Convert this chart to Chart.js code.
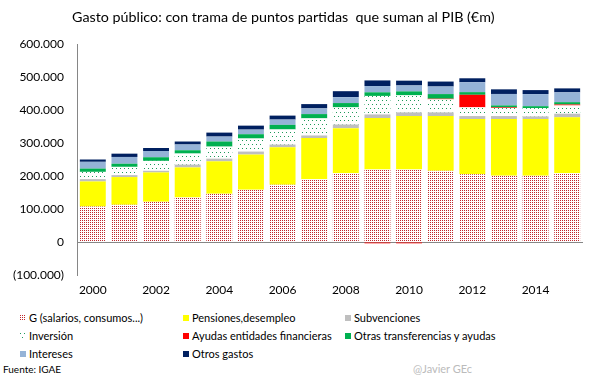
<!DOCTYPE html>
<html>
<head>
<meta charset="utf-8">
<script src="https://cdn.jsdelivr.net/npm/chart.js@4"></script>
<style>
  body { margin: 0; background: #fff; font-family: Lato, "Open Sans", sans-serif; }
  #wrap { position: relative; width: 605px; height: 378px; }
  #chart { position: absolute; left: 0; top: 0; }
  #title { position: absolute; left: 72px; top: 8px; font-size: 14.3px; color: #000; white-space: nowrap; }
  .leg { position: absolute; font-size: 11px; color: #000; white-space: nowrap; line-height: 14px; }
  .leg i { display: inline-block; width: 6px; height: 6px; margin-right: 3px; vertical-align: 1px; }
  #src { position: absolute; left: 3px; top: 363px; font-size: 10px; color: #000; }
  #sig { position: absolute; left: 413px; top: 362px; font-size: 11px; color: #bbb; }
</style>
</head>
<body>
<div id="wrap">
  <canvas id="chart" width="605" height="300"></canvas>
  <div id="title">Gasto público: con trama de puntos partidas&nbsp; que suman al PIB (€m)</div>
  <div id="legend"></div>
  <div id="src">Fuente: IGAE</div>
  <div id="sig">@Javier GEc</div>
</div>
<script>
const years = ['2000','2001','2002','2003','2004','2005','2006','2007','2008','2009','2010','2011','2012','2013','2014','2015'];

// € millones
const gasto = [107500,112700,121800,135000,146000,158400,173600,189800,208000,220000,220000,216000,205000,201000,201000,208000];
const pensiones = [76000,84000,89000,91000,98500,106600,113700,125000,137000,155600,161700,165700,167600,171600,171600,169700];
const subvenciones = [7000,6000,5000,8500,8000,9000,8000,8000,11000,11000,11000,11000,9000,9000,8000,11000];
const inversion = [22000,25000,30000,33500,36500,39600,45700,51800,52000,56000,51700,39500,26500,24300,25000,25000];
const ayudas = [0,0,0,0,0,0,0,0,0,-4000,-4000,2000,38000,2000,0,3000];
const otrasTransf = [10000,9500,11000,10000,15500,13000,14000,13000,13000,11000,12000,14000,8000,6000,6000,7000];
const intereses = [20500,20500,19000,17500,15000,14000,16000,17300,18000,19000,18000,23000,30000,34700,36700,29800];
const otros = [7000,10000,9000,9000,12000,12000,12000,13000,18000,17000,14500,15000,12000,14000,12000,12000];

const yTicks = [-100000,0,100000,200000,300000,400000,500000,600000];

function dotCanvas(color, step, stagger) {
    const c = document.createElement('canvas');
    c.width = step;
    c.height = stagger ? step * 2 : step;
    const g = c.getContext('2d');
    g.fillStyle = '#fff';
    g.fillRect(0, 0, c.width, c.height);
    g.fillStyle = color;
    g.fillRect(0, 0, 1, 1);
    if (stagger) g.fillRect(step / 2, step, 1, 1);
    return c;
}

const ctx = document.getElementById('chart').getContext('2d');
const gTile = dotCanvas('#c0282d', 2, false);
const invTile = dotCanvas('#1f9a5a', 4, true);

const series = [
    { label: 'G (salarios, consumos...)', data: gasto, color: ctx.createPattern(gTile, 'repeat'), tile: gTile },
    { label: 'Pensiones,desempleo', data: pensiones, color: '#ffff00' },
    { label: 'Subvenciones', data: subvenciones, color: '#bfbfbf' },
    { label: 'Inversión', data: inversion, color: ctx.createPattern(invTile, 'repeat'), tile: invTile },
    { label: 'Ayudas entidades financieras', data: ayudas, color: '#ff0000' },
    { label: 'Otras transferencias y ayudas', data: otrasTransf, color: '#00b050' },
    { label: 'Intereses', data: intereses, color: '#95b3d7' },
    { label: 'Otros gastos', data: otros, color: '#002060' }
];

const chart = new Chart(ctx, {
    type: 'bar',
    data: {
        labels: years,
        datasets: series.map(s => ({
            label: s.label,
            data: s.data,
            backgroundColor: s.color,
            borderWidth: 0,
            categoryPercentage: 0.82,
            barPercentage: 1.0
        }))
    },
    options: {
        responsive: false,
        animation: false,
        layout: { padding: { left: 0, right: 22, top: 44, bottom: 0 } },
        plugins: {
            legend: { display: false },
            tooltip: { enabled: false }
        },
        scales: {
            x: {
                stacked: true,
                grid: { display: false, drawTicks: false },
                border: { display: false },
                ticks: {
                    autoSkip: false,
                    maxRotation: 0,
                    padding: 8,
                    color: '#000',
                    font: { family: 'Lato', size: 12 },
                    callback: (v, i) => (i % 2 === 0 ? years[i] : '')
                },
                afterFit: scale => { scale.height = 25; }
            },
            y: {
                stacked: true,
                min: -100000,
                max: 600000,
                afterBuildTicks: scale => { scale.ticks = yTicks.map(v => ({ value: v })); },
                border: { display: true, color: '#868686', width: 1 },
                grid: {
                    drawTicks: false,
                    color: c => (c.tick && c.tick.value === 0 ? '#868686' : 'rgba(0,0,0,0)'),
                    lineWidth: 1
                },
                ticks: {
                    padding: 13,
                    color: '#000',
                    font: { family: 'Lato', size: 12 },
                    callback: v => {
                        const s = Math.abs(v).toLocaleString('de-DE');
                        return v < 0 ? '(' + s + ')' : s;
                    }
                },
                afterFit: scale => { scale.width = 77; }
            }
        }
    }
});

// legend in three columns
const cols = [20, 183, 345];
const rows = [311, 329, 347];
const legendDiv = document.getElementById('legend');
series.forEach((s, i) => {
    const el = document.createElement('div');
    el.className = 'leg';
    el.style.left = cols[i % 3] + 'px';
    el.style.top = rows[Math.floor(i / 3)] + 'px';
    const sw = document.createElement('i');
    if (s.tile) {
        sw.style.backgroundImage = 'url(' + s.tile.toDataURL() + ')';
        sw.style.backgroundRepeat = 'repeat';
    } else {
        sw.style.background = s.color;
    }
    el.appendChild(sw);
    el.appendChild(document.createTextNode(s.label));
    legendDiv.appendChild(el);
});
</script>
</body>
</html>
